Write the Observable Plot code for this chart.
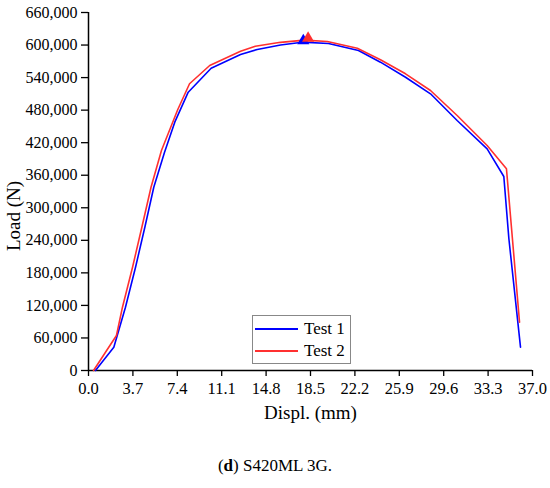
<!DOCTYPE html>
<html>
<head>
<meta charset="utf-8">
<script src="https://cdn.jsdelivr.net/npm/d3@7"></script>
<script src="https://cdn.jsdelivr.net/npm/@observablehq/plot@0.6"></script>
<style>
  html, body { margin: 0; padding: 0; background: #fff; }
  #wrap { position: relative; width: 550px; font-family: "Liberation Serif", serif; }
  #chart svg text { font-family: "Liberation Serif", serif; }
  #chart svg [aria-label="y-axis tick label"] text { font-size: 16px; }
  #chart svg [aria-label="x-axis tick label"] text { font-size: 16.5px; }
  #legend { position: absolute; left: 252px; top: 315px; width: 97px; height: 47px; border: 1px solid #888; background: #fff; font-family: "Liberation Serif", serif; font-size: 17px; }
  .row { position: absolute; left: 2px; height: 20px; display: flex; align-items: center; font-family: "Liberation Serif", serif; }
  .sw { width: 43px; height: 0; border-top: 2px solid; margin-right: 6px; }
  #ytitle { position: absolute; left: 14px; top: 216px; transform: translate(-50%, -50%) rotate(-90deg); font-size: 19px; white-space: nowrap; }
  #caption { text-align: center; font-family: "Liberation Serif", serif; font-size: 17px; margin-top: 26px; }
</style>
</head>
<body>
<div id="wrap">
  <div id="chart"></div>
  <div id="ytitle">Load (N)</div>
  <div id="legend">
    <div class="row" style="top:3px"><div class="sw" style="border-color:#0000ff"></div>Test 1</div>
    <div class="row" style="top:25px"><div class="sw" style="border-color:#ff3030"></div>Test 2</div>
  </div>
  <div id="caption">(<b>d</b>) S420ML 3G.</div>
</div>
<script>
const xTicks = [0.0, 3.7, 7.4, 11.1, 14.8, 18.5, 22.2, 25.9, 29.6, 33.3, 37.0];
const yTicks = [0, 60000, 120000, 180000, 240000, 300000, 360000, 420000, 480000, 540000, 600000, 660000];

const test1X = [0.58, 2.11, 3.08, 3.92, 4.71, 5.44, 6.33, 7.19, 8.31, 10.22, 12.67, 14.06, 16.0, 17.8, 20.0, 22.5, 24.33, 26.42, 28.5, 30.72, 33.22, 34.61, 35.03, 36.0];
const test1Y = [0, 43000, 116700, 190400, 265500, 337900, 401900, 457800, 513100, 557300, 582600, 591800, 600000, 605300, 602900, 590000, 568400, 540700, 510100, 460900, 408700, 357700, 243400, 43000];

const test2X = [0.42, 2.33, 2.83, 3.67, 4.46, 5.21, 6.08, 7.44, 8.42, 10.1, 12.67, 13.9, 16.0, 18.0, 19.9, 22.4, 24.33, 26.42, 28.5, 30.72, 33.22, 34.83, 35.92];
const test2Y = [0, 64500, 116700, 190400, 265500, 337900, 405600, 481200, 528600, 562300, 588600, 597900, 605000, 609000, 606500, 594200, 572800, 547000, 516200, 470100, 414800, 371900, 89000];

const peakX = [17.9, 18.3];
const peakY = [608000, 612500];
const peakColor = ["#0000ff", "#ff3030"];

const t1 = test1X.map((x, i) => ({x, y: test1Y[i]}));
const t2 = test2X.map((x, i) => ({x, y: test2Y[i]}));
const peaks = peakX.map((x, i) => ({x, y: peakY[i], c: peakColor[i]}));

const chart = Plot.plot({
  width: 550,
  height: 430,
  marginLeft: 88,
  marginRight: 18,
  marginTop: 12,
  marginBottom: 60,
  style: {fontFamily: "Liberation Serif, serif", fontSize: "16px", color: "#000", background: "#fff"},
  x: {domain: [0, 37], label: null},
  y: {domain: [0, 660000], label: null},
  marks: [
    Plot.axisX(xTicks, {tickSize: 6, tickPadding: 6, tickFormat: d => d.toFixed(1), label: null, strokeWidth: 1.3}),
    Plot.axisY(yTicks, {tickSize: 7, tickPadding: 4, tickFormat: d3.format(","), label: null, strokeWidth: 1.3}),
    Plot.ruleY([0], {stroke: "#000", strokeWidth: 1.5}),
    Plot.ruleX([0], {stroke: "#000", strokeWidth: 1.5}),
    Plot.line(t1, {x: "x", y: "y", stroke: "#0000ff", strokeWidth: 1.6}),
    Plot.line(t2, {x: "x", y: "y", stroke: "#ff3030", strokeWidth: 1.6}),
    Plot.dot(peaks, {x: "x", y: "y", symbol: "triangle", r: 4.5, fill: "c", stroke: null}),
    Plot.text(["Displ. (mm)"], {frameAnchor: "bottom", dy: 48, fontSize: 19, text: d => d})
  ]
});
document.getElementById("chart").appendChild(chart);
</script>
</body>
</html>
